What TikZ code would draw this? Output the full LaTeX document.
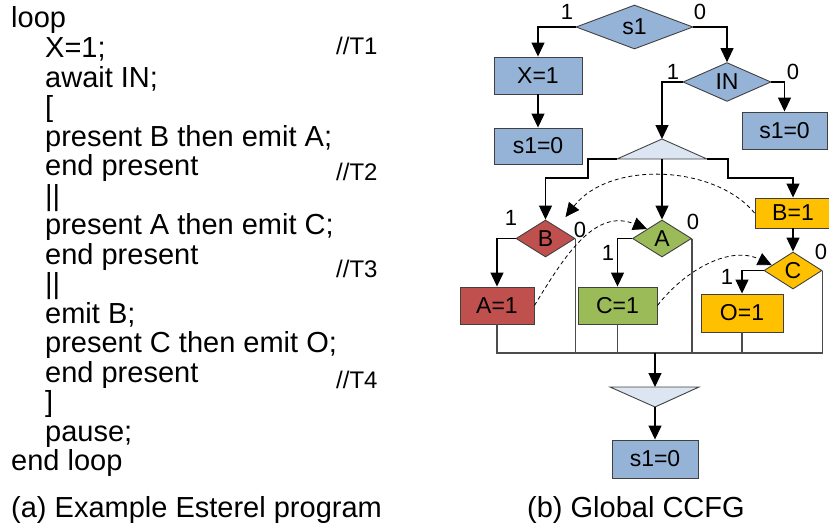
\documentclass[tikz,border=0pt]{standalone}
\usepackage{fontspec}
\setmainfont{Liberation Sans}
\usetikzlibrary{shapes.geometric,arrows.meta,calc}

\definecolor{stepblue}{HTML}{95B3D7}
\definecolor{condred}{HTML}{C0504D}
\definecolor{condgreen}{HTML}{9BBB59}
\definecolor{condyellow}{HTML}{FFC000}
\definecolor{forkfill}{HTML}{DCE6F2}

\tikzset{
	box/.style={draw=black!75, line width=0.9pt, minimum height=37pt, inner sep=0pt, font=\fontsize{23}{23}\selectfont},
	cond/.style={diamond, draw=black!75, line width=0.9pt, inner sep=0pt, minimum width=59pt, minimum height=37pt, font=\fontsize{23}{23}\selectfont},
	arr/.style={line width=1.2pt, -{Triangle[length=14pt,width=13pt]}},
	dep/.style={line width=0.8pt, dash pattern=on 4pt off 3pt, -{Triangle[length=14pt,width=13pt]}},
	mergeline/.style={line width=1.2pt, draw=black!70},
	lbl/.style={font=\fontsize{22}{22}\selectfont, inner sep=0pt},
	code/.style={anchor=base west, inner sep=0pt, font=\fontsize{29}{29}\selectfont},
	cmt/.style={anchor=base west, inner sep=0pt, font=\fontsize{24}{24}\selectfont}
}

\begin{document}
\begin{tikzpicture}[x=1pt,y=-1pt]
				\useasboundingbox (0,0) rectangle (829,527);
				\clip (0,0) rectangle (829,527);

				% Dibujar el programa
				\foreach \i/\ind/\txt in {1/0/loop, 2/1/X=1;, 3/1/await IN;, 4/1/{[}, 5/1/present B then emit A;, 6/1/end present, 7/1/||, 8/1/present A then emit C;, 9/1/end present, 10/1/||, 11/1/emit B;, 12/1/present C then emit O;, 13/1/end present, 14/1/{]}, 15/1/pause;, 16/0/end loop}
					\node[code] (l\i) at ({11+34*\ind},{28+29.5*(\i-1)}) {\txt};
				\node[cmt] (t1) at (336,55) {//T1};
				\node[cmt] (t2) at (336,180) {//T2};
				\node[cmt] (t3) at (336,277) {//T3};
				\node[cmt] (t4) at (336,388) {//T4};

				% Dibujar los nodos del CCFG
				\node[cond, fill=stepblue, minimum width=117pt, minimum height=44pt] (s1) at (634.5,27) {s1};
				\node[box, fill=stepblue, minimum width=88pt] (x1) at (538,75.5) {X=1};
				\node[box, fill=stepblue, minimum width=88pt, minimum height=36pt] (s1a) at (538,146) {s1=0};
				\node[cond, fill=stepblue, minimum width=88pt, minimum height=36pt] (in) at (727,82) {IN};
				\node[box, fill=stepblue, minimum width=85pt] (s1b) at (784.5,130.5) {s1=0};

				\node[cond, fill=condred] (bB) at (545.5,238.5) {B};
				\node[cond, fill=condgreen] (bA) at (662,238.5) {A};
				\node[cond, fill=condyellow, minimum width=58pt] (bC) at (793,270.5) {C};
				\node[box, fill=condred, minimum width=74pt] (eA) at (497,305.5) {A=1};
				\node[box, fill=condgreen, minimum width=79pt] (eC) at (617.5,305.5) {C=1};
				\node[box, fill=condyellow, minimum width=82pt, minimum height=38pt] (eO) at (742,313) {O=1};
				\node[box, fill=condyellow, minimum width=76pt, minimum height=30pt] (eB) at (793,213) {B=1};
				\node[box, fill=stepblue, minimum width=86pt, minimum height=38pt] (s1c) at (655,459) {s1=0};

				% Dibujar fork y join
				\coordinate (fork) at (662,139);
				\coordinate (forkL) at (617,159);
				\coordinate (forkR) at (707,159);
				\coordinate (forkM) at (662,159);
				\filldraw[fill=forkfill, draw=black!75, line width=0.9pt] (fork) -- (forkR) -- (forkL) -- cycle;
				\coordinate (merge) at (655,353);
				\coordinate (joinT) at (655,387);
				\coordinate (joinL) at (610,387);
				\coordinate (joinR) at (699,387);
				\coordinate (joinB) at (655,407);
				\filldraw[fill=forkfill, draw=black!75, line width=0.9pt] (joinL) -- (joinR) -- (joinB) -- cycle;

				% Dibujar las aristas
				\draw[arr] (s1.west) -| (x1.north);
				\draw[arr] (x1) -- (s1a);
				\draw[arr] (s1.east) -| (in.north);
				\draw[arr] (in.west) -| (fork);
				\draw[arr] (in.east) -| (s1b.north);
				\draw[arr] (forkL) -| (588,178) -| (bB.north);
				\draw[arr] (forkM) -- (bA.north);
				\draw[arr] (forkR) -| (728,178) -| (eB.north);
				\draw[arr] (bB.west) -| (eA.north);
				\draw[arr] (bA.west) -| (eC.north);
				\draw[arr] (bC.west) -| (eO.north);
				\draw[arr] (eB) -- (bC);
				\draw[mergeline] (eA.south) |- (merge) -| (bC.east);
				\draw[mergeline] (bB.east) -- (bB.east |- merge);
				\draw[mergeline] (eC.south) -- (eC.south |- merge);
				\draw[mergeline] (bA.east) -- (bA.east |- merge);
				\draw[mergeline] (eO.south) -- (eO.south |- merge);
				\draw[arr] (merge) -- (joinT);
				\draw[arr] (joinB) -- (s1c);

				% Dibujar las dependencias
				\draw[dep] (eB.west) .. controls (715,165) and (610,160) .. ($(bB.north east)+(5,-12)$);
				\draw[dep] (eA.east) .. controls (565,255) and (595,208) .. (bA.north west);
				\draw[dep] (eC.east) .. controls (685,270) and (730,245) .. ($(bC.west)!0.28!(bC.north)$);

				% Dibujar etiquetas de las ramas
				\node[lbl] (s1one) at (567,12) {1};
				\node[lbl] (s1zero) at (700,12) {0};
				\node[lbl] (inone) at (673,72) {1};
				\node[lbl] (inzero) at (793,72) {0};
				\node[lbl] (bBone) at (511,218) {1};
				\node[lbl] (bBzero) at (580,230) {0};
				\node[lbl] (bAone) at (608,253) {1};
				\node[lbl] (bAzero) at (693,222) {0};
				\node[lbl] (bCone) at (727,277) {1};
				\node[lbl] (bCzero) at (821,252) {0};

				% Dibujar los titulos
				\node[code] (capa) at (11,517) {(a) Example Esterel program};
				\node[code] (capb) at (527,517) {(b) Global CCFG};

\end{tikzpicture}
\end{document}
